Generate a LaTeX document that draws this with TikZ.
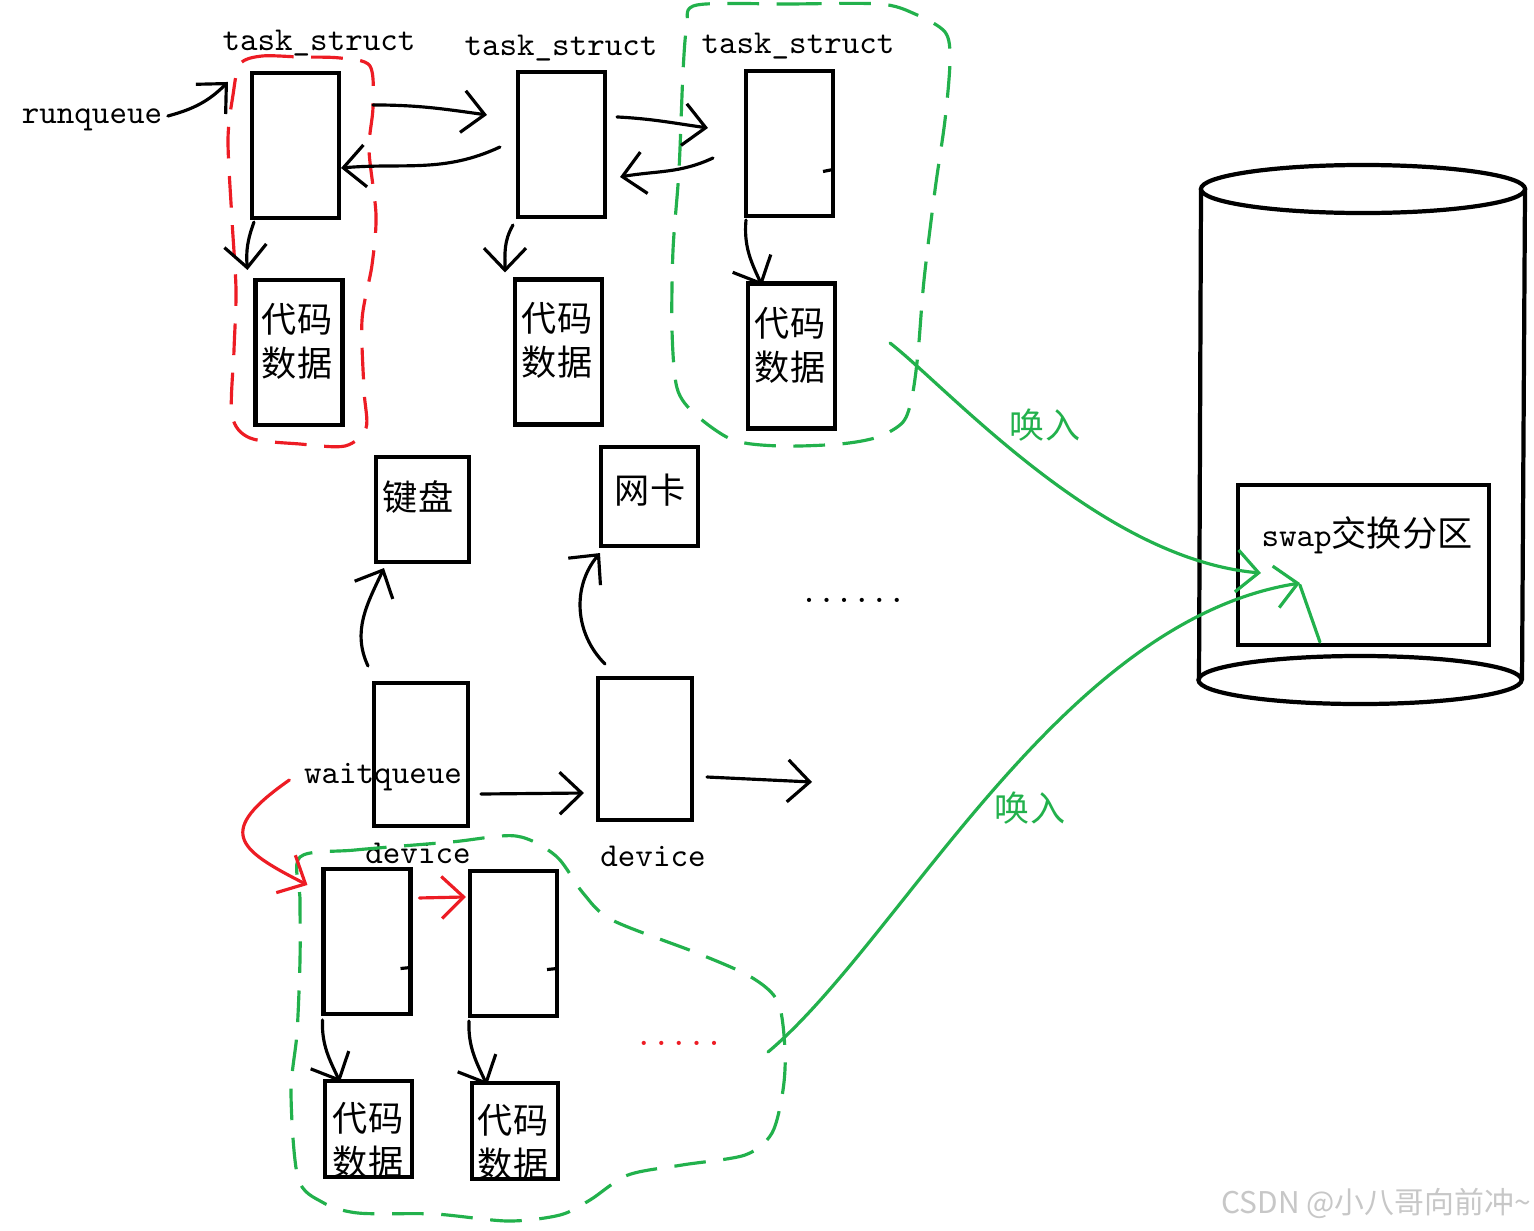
\documentclass[tikz,border=0pt]{standalone}
\usepackage{fontspec}
\newfontfamily\cjk{Noto Sans CJK SC}
\usetikzlibrary{arrows.meta, calc}

\definecolor{paintred}{HTML}{ED1C24}
\definecolor{paintgreen}{HTML}{22B14C}

\tikzset{
  pbox/.style={draw, line width=1.2pt, inner sep=0pt, outer sep=0pt},
  tsbox/.style={pbox, minimum width=0.87cm, minimum height=1.45cm},
  lbl/.style={font=\ttfamily\fontsize{9.5}{11}\selectfont, inner sep=0pt},
  cjklbl/.style={font=\cjk\fontsize{10}{12.5}\selectfont, inner sep=0pt, align=center},
  link/.style={->, line width=0.9pt, line cap=round},
  redlink/.style={link, draw=paintred},
  swapin/.style={link, draw=paintgreen},
  procloop/.style={line width=0.9pt, dash pattern=on 9pt off 5pt},
}

\begin{document}
\begin{tikzpicture}[x=0.01cm, y=0.01cm, >={Straight Barb[length=2.2mm,width=4.2mm]}]
  \path[use as bounding box, fill=white] (0,0) rectangle (1534,-1230);

  % run queue
  \node[tsbox] (ts1) at (295.5,-145.5) {};
  \node[tsbox] (ts2) at (561.5,-144.5) {};
  \node[tsbox] (ts3) at (789.5,-143.5) {};
  \node[lbl] (lts1) at (319,-43) {task\_struct};
  \node[lbl] (lts2) at (561,-48) {task\_struct};
  \node[lbl] (lts3) at (798,-46) {task\_struct};
  \node[lbl] (rq) at (92,-120) {runqueue};

  \node[tsbox] (cd1) at (299,-352.5) {};
  \node[tsbox] (cd2) at (558.5,-352) {};
  \node[tsbox] (cd3) at (791.5,-356) {};
  \node[cjklbl] (cdt1) at (297,-341) {代码\\数据};
  \node[cjklbl] (cdt2) at (557,-340) {代码\\数据};
  \node[cjklbl] (cdt3) at (790,-345) {代码\\数据};

  % devices
  \node[pbox, minimum width=0.93cm, minimum height=1.05cm] (kbd) at (422.5,-509.5) {};
  \node[pbox, minimum width=0.97cm, minimum height=0.99cm] (nic) at (649.5,-496.5) {};
  \node[cjklbl] (kbdt) at (418,-497) {键盘};
  \node[cjklbl] (nict) at (650,-490) {网卡};
  \node[pbox, minimum width=0.94cm, minimum height=1.43cm] (dev1) at (421,-754.5) {};
  \node[pbox, minimum width=0.94cm, minimum height=1.42cm] (dev2) at (645,-749) {};
  \node[lbl] (wq) at (383,-777) {waitqueue};
  \node[lbl] (ldev1) at (418,-853) {device};
  \node[lbl] (ldev2) at (653,-856) {device};
  \node[lbl] (more) at (853,-600) {......};

  % wait queue
  \node[tsbox] (wt1) at (367,-941.5) {};
  \node[tsbox] (wt2) at (513.5,-943.5) {};
  \node[pbox, minimum width=0.87cm, minimum height=0.96cm] (wc1) at (368.5,-1129) {};
  \node[pbox, minimum width=0.86cm, minimum height=0.96cm] (wc2) at (515,-1131) {};
  \node[cjklbl] (wct1) at (368,-1140) {代码\\数据};
  \node[cjklbl] (wct2) at (513,-1142) {代码\\数据};
  \node[lbl, text=paintred] (morewt) at (679,-1043) {.....};

  % swap disk
  \draw[line width=1.2pt] (1363,-189) ellipse[x radius=1.62cm, y radius=0.24cm];
  \draw[line width=1.2pt] (1201,-189) -- (1199,-680) (1525,-189) -- (1522,-680);
  \draw[line width=1.2pt] (1360,-680) ellipse[x radius=1.615cm, y radius=0.24cm];
  \node[pbox, minimum width=2.51cm, minimum height=1.6cm] (swap) at (1363.5,-565) {};
  \node[lbl] (swapt) at (1367,-535) {swap{\cjk\fontsize{10}{12}\selectfont 交换分区}};
  \node[cjklbl, text=paintgreen] (in1) at (1045,-425) {唤入};
  \node[cjklbl, text=paintgreen] (in2) at (1030,-808) {唤入};

  \node[font=\cjk\fontsize{8.5}{10}\selectfont, text=black!22, inner sep=0pt] (mark) at (1376,-1203) {CSDN @小八哥向前冲\textasciitilde};

  % loops
  \draw[procloop, draw=paintred] plot[smooth cycle] coordinates {(240,-64) (262,-56) (300,-57) (340,-58) (370,-66) (373,-107) (369,-150) (376,-215) (372,-265) (362,-320) (364,-390) (366,-428) (345,-446) (300,-444) (250,-438) (232,-415) (234,-350) (236,-290) (232,-220) (228,-140) (233,-95)};
  \draw[procloop, draw=paintgreen] plot[smooth cycle] coordinates {(697,-5) (790,-4) (880,-4) (915,-14) (945,-32) (950,-60) (945,-120) (935,-190) (924,-280) (918,-353) (912,-397) (903,-422) (878,-437) (840,-444) (780,-446) (733,-440) (695,-414) (677,-388) (672,-330) (673,-250) (679,-170) (683,-72) (687,-25)};
  \draw[procloop, draw=paintgreen] plot[smooth cycle] coordinates {(300,-857) (355,-850) (451,-842) (516,-836) (556,-856) (583,-893) (612,-920) (697,-953) (751,-977) (778,-1002) (785,-1050) (783,-1090) (772,-1133) (745,-1155) (682,-1165) (628,-1175) (590,-1200) (560,-1215) (508,-1221) (435,-1214) (358,-1213) (322,-1202) (298,-1178) (291,-1093) (297,-1033) (300,-960) (300,-900)};

  % links
  \draw[link] ($(rq.east)+(5,4)$) to[out=15, in=225] ($(ts1.north west)+(-24,-9)$);
  \draw[link] ($(ts1.north east)+(34,-32)$) to[out=0, in=172] ($(ts2.north west)+(-31,-43)$);
  \draw[link] ($(ts2.west)+(-18,-2.5)$) to[out=205, in=5] ($(ts1.east)+(2,-22.5)$);
  \draw[link] ($(ts2.north east)+(12,-45)$) to[out=-3, in=172] ($(ts3.north west)+(-38,-57)$);
  \draw[link] ($(ts3.west)+(-33,-14.5)$) to[out=205, in=10] ($(ts2.east)+(15,-32.5)$);
  \draw[link] ($(ts1.south west)+(2,-4)$) to[out=250, in=95] ($(cd1.north west)+(-8,10)$);
  \draw[link] ($(ts2.south west)+(-5,-8)$) to[out=240, in=90] ($(cd2.north west)+(-10,7)$);
  \draw[link] ($(ts3.south west)+(0,-4)$) to[out=265, in=115] ($(cd3.north west)+(14,-2)$);
  \draw[line width=0.9pt] ($(ts3.east)+(0,-26)$) -- ++(-10,-2);

  \draw[link] ($(dev1.north west)+(-6,17)$) to[out=115, in=245] ($(kbd.south west)+(8,-6)$);
  \draw[link] ($(dev2.north west)+(7,14)$) to[out=135, in=230] ($(nic.south west)+(-1,-7)$);
  \draw[link] ($(dev1.east)+(13,-39.5)$) -- ($(dev2.west)+(-14,-44)$);
  \coordinate (devnext) at (812,-782);
  \draw[link] ($(dev2.east)+(15,-28)$) -- (devnext);

  \draw[redlink] ($(wq.west)+(-14,-3)$) to[out=215, in=153, out distance=0.9cm, in distance=0.8cm] ($(wt1.north west)+(-16,-16)$);
  \draw[redlink] ($(wt1.north east)+(9,-29)$) -- ($(wt2.north west)+(-4,-26)$);
  \draw[link] ($(wt1.south west)+(-1,-6)$) to[out=268, in=115] ($(wc1.north west)+(15,-1)$);
  \draw[link] ($(wt2.south west)+(-1,-5)$) to[out=268, in=115] ($(wc2.north west)+(15,-2)$);
  \draw[line width=0.9pt] ($(wt1.east)+(0,-26)$) -- ++(-10,-1);
  \draw[line width=0.9pt] ($(wt2.east)+(0,-25)$) -- ++(-10,-1);

  % swap in
  \draw[swapin] ($(cd3.east)+(55,13)$) to[out=-38, in=175, out distance=0.76cm, in distance=1.61cm] ($(swap.west)+(23,-8)$);
  \coordinate (grp) at (768,-1052);
  \draw[swapin] (grp) to[out=40, in=189, out distance=1.73cm, in distance=2.43cm] ($(swap.south west)+(62,62)$);
  \draw[swapin, -] ($(swap.south west)+(82,3)$) -- ($(swap.south west)+(62,60)$);
\end{tikzpicture}
\end{document}
